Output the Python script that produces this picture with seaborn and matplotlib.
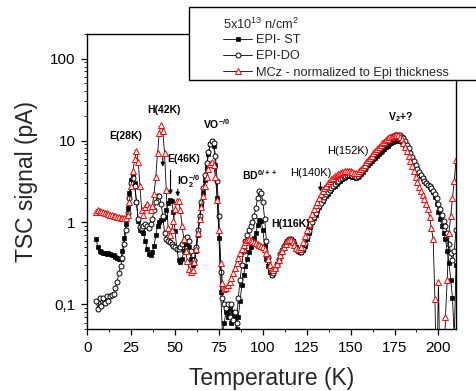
import numpy as np
import pandas as pd
import matplotlib
matplotlib.use("Agg")
import matplotlib.pyplot as plt
import seaborn as sns
from matplotlib.patches import Rectangle
from matplotlib.ticker import FixedLocator, FixedFormatter, LogLocator, NullFormatter, MultipleLocator

# ---------------- data ----------------
temperature = list(range(5, 211))

epi_st = [
    0.63, 0.50, 0.45, 0.43, 0.42, 0.42, 0.41, 0.42, 0.41, 0.40,   # 5-14
    0.40, 0.38, 0.37, 0.36, 0.36, 0.45, 0.65, 0.95, 1.5, 2.3,      # 15-24
    3.3, 3.9, 3.0, 1.8, 1.05, 0.82, 0.78, 0.74, 0.60, 0.48,        # 25-34
    0.41, 0.40, 0.43, 0.52, 0.70, 0.90, 1.02, 1.08, 1.10, 1.15,    # 35-44
    1.40, 1.75, 1.90, 1.82, 1.35, 0.78, 0.48, 0.35, 0.33, 0.36,    # 45-54
    0.45, 0.55, 0.58, 0.50, 0.36, 0.30, 0.33, 0.45, 0.70, 1.10,    # 55-64
    1.60, 2.3, 3.3, 4.8, 6.8, 9.0, 9.8, 8.7, 5.0, 2.0,             # 65-74
    0.65, 0.14, 0.04, 0.06, 0.08, 0.07, 0.09, 0.06, 0.08, 0.07,    # 75-84
    0.05, 0.07, 0.11, 0.17, 0.23, 0.29, 0.36, 0.43, 0.50, 0.56,    # 85-94
    0.65, 0.75, 0.92, 1.06, 1.04, 0.80, 0.52, 0.36, 0.29, 0.25,    # 95-104
    0.23, 0.24, 0.27, 0.31, 0.35, 0.39, 0.44, 0.50, 0.55, 0.59,    # 105-114
    0.62, 0.63, 0.60, 0.55, 0.50, 0.46, 0.44, 0.43, 0.46, 0.52,    # 115-124
    0.62, 0.75, 0.88, 1.00, 1.12, 1.25, 1.40, 1.55, 1.72, 1.85,    # 125-134
    1.98, 2.10, 2.25, 2.40, 2.55, 2.68, 2.80, 2.95, 3.10, 3.25,    # 135-144
    3.35, 3.48, 3.58, 3.65, 3.70, 3.70, 3.62, 3.55, 3.50, 3.55,    # 145-154
    3.70, 3.90, 4.15, 4.45, 4.70, 5.00, 5.30, 5.60, 5.90, 6.20,    # 155-164
    6.50, 6.85, 7.20, 7.55, 7.90, 8.25, 8.60, 8.95, 9.30, 9.60,    # 165-174
    9.85, 10.0, 10.0, 9.85, 9.55, 9.20, 8.70, 8.10, 7.40, 6.70,    # 175-184
    6.00, 5.35, 4.80, 4.35, 4.00, 3.70, 3.45, 3.20, 3.00, 2.85,    # 185-194
    2.70, 2.55, 2.35, 2.05, 1.70, 1.35, 1.10, 0.90, 0.75, 0.62,    # 195-204
    0.45, 0.32, 0.20, 0.12, 0.04, 0.30,                            # 205-210
]

epi_do = [
    0.11, 0.088, 0.12, 0.095, 0.12, 0.105, 0.125, 0.11, 0.125, 0.13,  # 5-14
    0.135, 0.16, 0.19, 0.24, 0.29, 0.37, 0.55, 0.82, 1.30, 2.0,      # 15-24
    3.0, 3.5, 2.8, 1.8, 1.10, 0.88, 0.85, 0.90, 0.95, 0.90,          # 25-34
    0.85, 0.95, 1.10, 1.40, 1.80, 2.10, 2.10, 1.70, 1.20, 0.75,      # 35-44
    0.62, 0.60, 0.58, 0.55, 0.52, 0.50, 0.48, 0.47, 0.50, 0.55,      # 45-54
    0.60, 0.65, 0.66, 0.60, 0.45, 0.33, 0.35, 0.50, 0.80, 1.20,      # 55-64
    1.80, 2.60, 3.80, 5.30, 7.20, 9.00, 10.0, 9.30, 6.50, 3.20,      # 65-74
    1.20, 0.25, 0.12, 0.10, 0.09, 0.10, 0.07, 0.10, 0.065, 0.08,     # 75-84
    0.06, 0.12, 0.20, 0.30, 0.45, 0.60, 0.70, 0.80, 0.90, 1.00,      # 85-94
    1.20, 1.50, 2.00, 2.40, 2.30, 1.80, 1.10, 0.60, 0.38, 0.28,      # 95-104
    0.23, 0.24, 0.27, 0.31, 0.36, 0.41, 0.46, 0.52, 0.56, 0.60,      # 105-114
    0.62, 0.62, 0.59, 0.54, 0.49, 0.45, 0.43, 0.43, 0.47, 0.55,      # 115-124
    0.66, 0.78, 0.90, 1.02, 1.15, 1.30, 1.45, 1.60, 1.75, 1.90,      # 125-134
    2.05, 2.20, 2.35, 2.50, 2.65, 2.80, 2.95, 3.10, 3.25, 3.38,      # 135-144
    3.50, 3.62, 3.72, 3.80, 3.82, 3.80, 3.72, 3.65, 3.62, 3.70,      # 145-154
    3.90, 4.15, 4.45, 4.80, 5.15, 5.50, 5.90, 6.30, 6.70, 7.10,      # 155-164
    7.55, 8.00, 8.45, 8.90, 9.35, 9.80, 10.2, 10.6, 11.0, 11.3,      # 165-174
    11.6, 11.8, 11.8, 11.6, 11.2, 10.6, 9.80, 8.90, 8.00, 7.10,      # 175-184
    6.30, 5.60, 5.00, 4.50, 4.10, 3.75, 3.50, 3.25, 3.05, 2.90,      # 185-194
    2.75, 2.60, 2.45, 2.25, 2.00, 1.70, 1.45, 1.25, 1.05, 0.90,      # 195-204
    0.75, 0.55, 0.42, 0.35, 0.45, 0.80,                              # 205-210
]

mcz = [
    1.35, 1.40, 1.38, 1.35, 1.33, 1.31, 1.29, 1.27, 1.25, 1.23,    # 5-14
    1.21, 1.19, 1.17, 1.15, 1.13, 1.12, 1.12, 1.14, 1.25, 1.8,     # 15-24
    2.8, 4.2, 6.0, 7.5, 5.5, 2.8, 1.4, 1.25, 1.55, 1.70,           # 25-34
    1.55, 1.40, 1.60, 2.20, 3.60, 7.00, 12.5, 15.5, 13.0, 7.0,     # 35-44
    2.5, 0.85, 0.70, 0.80, 1.05, 1.45, 1.85, 1.85, 1.40, 0.90,     # 45-54
    0.62, 0.45, 0.34, 0.27, 0.25, 0.26, 0.33, 0.48, 0.75, 1.10,    # 55-64
    1.55, 2.10, 2.80, 3.60, 4.50, 5.20, 5.50, 5.10, 3.60, 1.90,    # 65-74
    0.80, 0.32, 0.18, 0.155, 0.16, 0.17, 0.19, 0.21, 0.24, 0.28,   # 75-84
    0.32, 0.37, 0.42, 0.48, 0.53, 0.58, 0.61, 0.62, 0.61, 0.60,    # 85-94
    0.58, 0.56, 0.54, 0.53, 0.52, 0.50, 0.47, 0.42, 0.36, 0.30,    # 95-104
    0.27, 0.26, 0.28, 0.31, 0.35, 0.40, 0.45, 0.50, 0.55, 0.59,    # 105-114
    0.61, 0.61, 0.58, 0.53, 0.49, 0.47, 0.47, 0.50, 0.57, 0.68,    # 115-124
    0.82, 0.97, 1.12, 1.28, 1.45, 1.62, 1.80, 2.00, 2.20, 2.40,    # 125-134
    2.60, 2.80, 3.00, 3.18, 3.35, 3.50, 3.65, 3.78, 3.90, 4.00,    # 135-144
    4.08, 4.15, 4.20, 4.22, 4.22, 4.20, 4.15, 4.05, 4.00, 4.05,    # 145-154
    4.20, 4.45, 4.75, 5.05, 5.40, 5.75, 6.15, 6.55, 7.00, 7.45,    # 155-164
    7.90, 8.35, 8.80, 9.25, 9.70, 10.1, 10.5, 10.9, 11.2, 11.5,    # 165-174
    11.7, 11.8, 11.6, 11.1, 10.3, 9.40, 8.40, 7.40, 6.50, 5.70,    # 175-184
    4.90, 4.20, 3.60, 3.10, 2.70, 2.40, 2.15, 1.95, 1.70, 1.45,    # 185-194
    1.15, 0.85, 0.62, 0.115, 0.01, 0.19, 0.01, 0.01, 0.01, 0.07,   # 195-204
    0.20, 0.75, 1.20, 2.00, 3.20, 5.80,                            # 205-210
]

series_labels = ["EPI- ST", "EPI-DO", "MCz - normalized to Epi thickness"]
legend_title = r"5x10$^{13}$ n/cm$^{2}$"
x_ticks = [0, 25, 50, 75, 100, 125, 150, 175, 200]
y_ticks = [0.1, 1, 10, 100]
y_tick_labels = ["0,1", "1", "10", "100"]

df = pd.DataFrame({"T": temperature, "st": epi_st, "do": epi_do, "mcz": mcz})

# ---------------- style ----------------
sns.set_style("ticks")
plt.rcParams["font.family"] = ["Liberation Sans", "DejaVu Sans"]
plt.rcParams["mathtext.fontset"] = "custom"
plt.rcParams["mathtext.rm"] = "Liberation Sans"
plt.rcParams["mathtext.it"] = "Liberation Sans:italic"
plt.rcParams["mathtext.bf"] = "Liberation Sans:bold"

W, H = 477, 391
fig = plt.figure(figsize=(W / 100, H / 100), dpi=100)
ax = fig.add_axes([87.3 / W, 1 - 329 / H, (456 - 87.3) / W, (329 - 34) / H])

line_kw = dict(color="black", linewidth=0.6, ax=ax, sort=False, estimator=None)
sns.lineplot(data=df, x="T", y="st", marker="s", markersize=3.0,
             markerfacecolor="black", markeredgecolor="black", markeredgewidth=0.5,
             label=series_labels[0], **line_kw)
sns.lineplot(data=df, x="T", y="do", marker="o", markersize=3.6,
             markerfacecolor="white", markeredgecolor="black", markeredgewidth=0.7,
             label=series_labels[1], **line_kw)
sns.lineplot(data=df, x="T", y="mcz", marker="^", markersize=4.0,
             markerfacecolor="white", markeredgecolor="red", markeredgewidth=0.7,
             label=series_labels[2], **line_kw)

ax.set_yscale("log")
ax.set_xlim(0, 210)
ax.set_ylim(0.05, 200)
ax.xaxis.set_major_locator(FixedLocator(x_ticks))
ax.xaxis.set_minor_locator(MultipleLocator(12.5))
ax.yaxis.set_major_locator(FixedLocator(y_ticks))
ax.yaxis.set_major_formatter(FixedFormatter(y_tick_labels))
ax.yaxis.set_minor_locator(LogLocator(base=10, subs=np.arange(2, 10)))
ax.yaxis.set_minor_formatter(NullFormatter())
ax.tick_params(which="major", direction="out", length=4, width=0.9, labelsize=11,
               colors="black", pad=4.5)
ax.tick_params(which="minor", direction="out", length=2.2, width=0.7)
for s in ax.spines.values():
    s.set_linewidth(1.0)
    s.set_color("black")

ax.set_xlabel("Temperature (K)", fontsize=16.5, labelpad=9)
ax.set_ylabel("TSC signal (pA)", fontsize=16.5, labelpad=8.5)

# ---------------- annotations ----------------
bold = dict(fontsize=7.5, fontweight="bold", color="black")
normal = dict(fontsize=8, color="black")
ax.text(22, 11.5, "E(28K)", ha="center", va="center", **bold)
ax.text(43.6, 23.9, "H(42K)", ha="center", va="center", **bold)
ax.text(45.3, 6.0, "E(46K)", ha="left", va="center", **bold)
ax.text(50.9, 3.16, r"IO$_{\mathbf{2}}^{\mathbf{-/0}}$", ha="left", va="center", **bold)
ax.text(65.7, 16.1, r"VO$^{\mathbf{-/0}}$", ha="left", va="center", **bold)
ax.text(87.9, 3.74, r"BD$^{\mathbf{0/++}}$", ha="left", va="center", **bold)
ax.text(104.9, 0.97, "H(116K)", ha="left", va="center", **bold)
ax.text(115.7, 4.07, "H(140K)", ha="left", va="center", **normal)
ax.text(136.8, 7.55, "H(152K)", ha="left", va="center", **normal)
ax.text(171.3, 19.6, r"V$_{\mathbf{2}}$+?", ha="left", va="center", **bold)

arrow_kw = dict(arrowstyle="-|>", color="black", lw=0.8, mutation_scale=6)
for (xa, y0, y1) in [(47.4, 4.69, 2.02), (43.0, 6.75, 4.43), (51.5, 2.75, 1.91), (132.8, 3.35, 2.2)]:
    ax.annotate("", xy=(xa, y1), xytext=(xa, y0), arrowprops=arrow_kw)

# ---------------- legend ----------------
if ax.get_legend() is not None:
    ax.get_legend().remove()
handles, labels = ax.get_legend_handles_labels()
box = Rectangle((189 / W, 1 - 80 / H), (W - 189 + 5) / W, 73 / H, transform=fig.transFigure,
                facecolor="white", edgecolor="black", linewidth=1.0, zorder=5, clip_on=False)
fig.patches.append(box)
leg = fig.legend(handles, labels, loc="upper left",
                 bbox_to_anchor=(218 / W, 1 - 29 / H), bbox_transform=fig.transFigure,
                 frameon=False, fontsize=9.2, borderaxespad=0.0,
                 handlelength=2.3, handletextpad=0.25, labelspacing=0.34, borderpad=0.4)
leg.set_zorder(6)
fig.text(223 / W, 1 - 24.5 / H, legend_title, fontsize=9.2, ha="left", va="center", zorder=7)

fig.savefig("out.png", dpi=100)
